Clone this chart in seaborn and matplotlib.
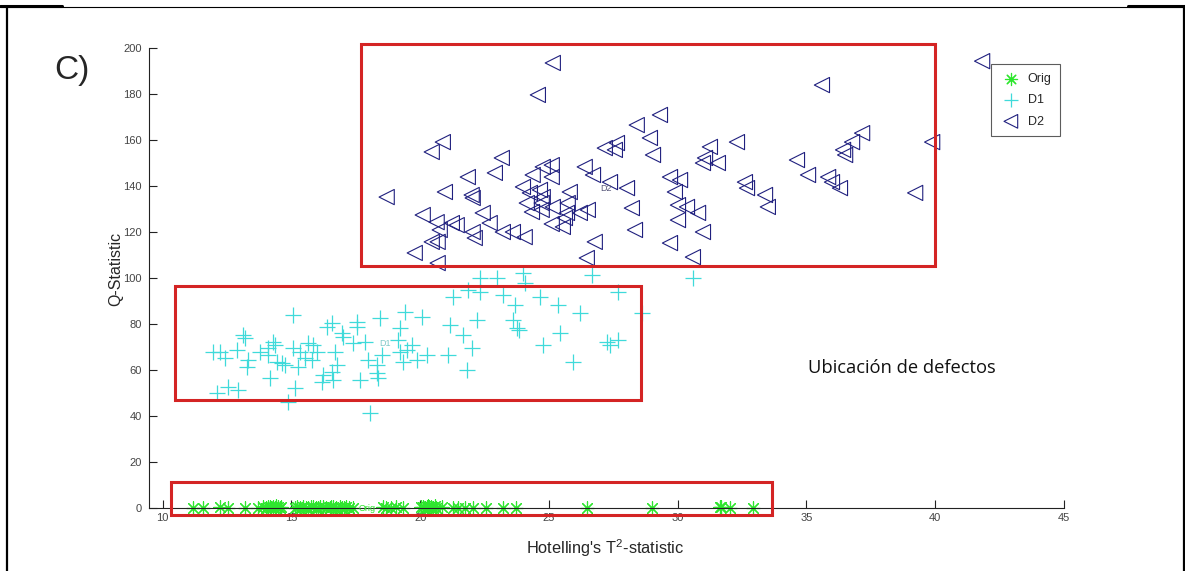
import matplotlib
matplotlib.use('Agg')
import matplotlib.pyplot as plt
import matplotlib.patches as mpatches
from matplotlib.lines import Line2D
import pandas as pd
import seaborn as sns

# data (T2 statistic, Q statistic)
orig_t2 = [11.18, 11.57, 12.21, 12.54, 13.19, 13.70, 13.90, 14.03, 14.10, 14.16,
           14.22, 14.29, 14.35, 14.42, 14.48, 14.55, 14.61, 15.13, 15.20, 15.32,
           15.45, 15.55, 15.65, 15.75, 15.84, 15.95, 16.03, 16.12, 16.23, 16.35,
           16.49, 16.55, 16.62, 16.75, 16.88, 16.95, 17.05, 17.14, 17.25, 17.39,
           18.56, 18.69, 18.88, 19.08, 19.34, 20.05, 20.12, 20.18, 20.25, 20.31,
           20.36, 20.44, 20.50, 20.56, 20.63, 20.83, 21.28, 21.47, 21.73, 22.06,
           22.57, 23.22, 23.74, 26.46, 29.02, 31.64, 31.68, 32.03, 32.92]
orig_q = [0.2, 0.1, 0.3, 0.0, 0.2, 0.1, 0.4, 0.2, 0.6, 0.3,
          0.1, 0.5, 0.2, 0.7, 0.3, 0.1, 0.4, 0.2, 0.3, 0.1,
          0.5, 0.2, 0.0, 0.3, 0.6, 0.1, 0.2, 0.4, 0.3, 0.1,
          0.2, 0.5, 0.3, 0.1, 0.4, 0.2, 0.0, 0.3, 0.1, 0.2,
          0.3, 0.1, 0.2, 0.4, 0.1, 0.3, 0.6, 0.2, 0.5, 0.8,
          0.3, 0.4, 0.1, 0.7, 0.2, 0.3, 0.1, 0.2, 0.0, 0.1,
          0.2, 0.1, 0.0, 0.2, 0.1, 0.3, 0.5, 0.1, 0.2]

d1_t2 = [15.05, 16.57, 16.37, 17.54, 17.54, 18.43, 19.40, 20.06, 19.21, 21.27,
         21.15, 13.11, 13.19, 16.95, 16.99, 17.85, 17.38, 19.13, 19.67, 11.94,
         12.21, 12.41, 12.87, 13.30, 13.26, 13.77, 14.08, 14.27, 14.35, 14.08,
         14.43, 14.62, 14.74, 15.05, 15.32, 15.24, 15.52, 15.63, 15.83, 15.98,
         15.79, 16.68, 16.76, 16.57, 16.22, 16.18, 16.60, 17.65, 14.16, 15.13,
         14.86, 17.96, 18.31, 18.51, 18.31, 18.35, 19.21, 19.48, 19.32, 19.87,
         20.26, 21.07, 12.10, 12.53, 12.91, 18.04, 22.32, 22.98, 23.99, 24.06,
         26.67, 30.59, 21.85, 22.32, 23.21, 23.68, 24.65, 25.35, 26.20, 27.68,
         28.61, 22.20, 23.60, 23.75, 23.83, 21.65, 22.00, 25.42, 24.76, 27.25,
         27.68, 27.37, 21.81, 25.93]
d1_q = [83.9, 80.4, 78.7, 80.9, 78.7, 82.6, 85.2, 83.0, 78.3, 91.7,
        79.6, 75.2, 73.9, 76.1, 74.3, 72.2, 71.7, 73.0, 70.9, 67.8,
        67.8, 65.2, 68.7, 64.3, 61.3, 67.8, 69.6, 72.2, 70.9, 66.5,
        63.5, 63.0, 62.2, 69.6, 67.8, 61.3, 65.2, 71.7, 70.9, 67.8,
        64.3, 67.8, 62.2, 59.1, 57.8, 54.8, 55.7, 55.7, 56.5, 52.2,
        46.1, 64.3, 62.2, 66.5, 58.7, 56.5, 67.8, 68.7, 63.5, 64.3,
        66.5, 66.5, 50.0, 52.6, 51.3, 41.3, 100.0, 100.0, 102.2, 97.8,
        101.3, 100.0, 94.8, 93.9, 92.6, 88.3, 91.7, 88.3, 84.8, 93.9,
        84.8, 81.7, 81.7, 78.3, 77.4, 75.2, 69.6, 76.1, 70.9, 72.2,
        73.0, 70.9, 60.0, 63.5]

d2_t2 = [25.15, 24.57, 29.31, 28.41, 28.92, 29.04, 20.88, 20.45, 23.17, 22.90,
         21.85, 18.70, 20.96, 22.00, 22.04, 24.76, 25.11, 25.11, 24.37, 26.39,
         26.71, 27.17, 27.64, 27.56, 23.99, 24.26, 24.65, 24.76, 24.72, 25.81,
         24.14, 24.34, 24.72, 25.15, 25.73, 25.70, 26.20, 26.51, 27.37, 28.03,
         28.22, 28.34, 26.78, 26.47, 25.11, 25.54, 25.62, 22.43, 22.70, 22.04,
         22.12, 23.21, 23.60, 24.06, 20.10, 20.64, 20.76, 21.23, 21.42, 20.45,
         20.68, 19.79, 20.68, 29.70, 30.09, 29.89, 30.01, 30.36, 30.01, 29.70,
         30.59, 35.60, 31.25, 31.06, 30.98, 31.56, 32.30, 30.79, 30.98, 32.61,
         32.69, 33.39, 33.50, 34.63, 35.06, 35.84, 35.99, 36.30, 36.42, 36.50,
         36.77, 37.16, 39.22, 39.88, 41.82]
d2_q = [193.5, 179.6, 170.9, 166.5, 160.9, 153.5, 159.1, 154.8, 152.2, 145.7,
        143.9, 135.2, 137.4, 136.1, 134.8, 148.3, 149.1, 143.9, 144.8, 148.3,
        144.8, 156.5, 158.7, 155.7, 139.6, 137.0, 138.3, 135.2, 132.6, 137.4,
        132.6, 128.7, 129.6, 130.9, 132.6, 128.3, 128.3, 129.6, 141.7, 139.1,
        130.4, 120.9, 115.7, 108.7, 123.5, 122.2, 126.1, 128.3, 123.9, 120.0,
        117.4, 120.0, 120.0, 117.8, 127.4, 124.3, 120.9, 123.9, 123.0, 115.7,
        115.7, 110.9, 106.5, 143.9, 142.6, 137.4, 131.7, 130.9, 125.2, 115.2,
        109.1, 183.9, 157.0, 152.2, 150.0, 150.0, 159.1, 128.3, 120.0, 141.7,
        139.1, 136.1, 130.9, 151.3, 144.8, 143.9, 141.7, 139.1, 155.7, 153.5,
        159.1, 163.0, 137.0, 159.1, 194.3]

# red boxes marking the defect locations (t2 from, t2 to, q from, q to)
boxes = [(17.69, 39.99, 105.2, 201.7),
         (10.47, 28.57, 47.0, 96.5),
         (10.31, 33.66, -3.0, 11.3)]

x_ticks = [10, 15, 20, 25, 30, 35, 40, 45]
y_ticks = [0, 20, 40, 60, 80, 100, 120, 140, 160, 180, 200]

sns.set_style('ticks')
plt.rcParams['font.family'] = ['Liberation Sans', 'DejaVu Sans']
plt.rcParams['mathtext.default'] = 'regular'

df = pd.concat([
    pd.DataFrame({'t2': orig_t2, 'q': orig_q, 'grp': 'Orig'}),
    pd.DataFrame({'t2': d1_t2, 'q': d1_q, 'grp': 'D1'}),
    pd.DataFrame({'t2': d2_t2, 'q': d2_q, 'grp': 'D2'}),
])

green = '#2ee62e'
cyan = '#3fdada'
navy = '#20207f'
asterisk = (8, 2, 0)

fig = plt.figure(figsize=(11.85, 5.71), dpi=100)
ax = fig.add_axes([0.1257, 0.1103, 0.7722, 0.8056])

sns.scatterplot(data=df[df.grp == 'Orig'], x='t2', y='q', marker=asterisk, s=95,
                color=green, linewidth=0.85, ax=ax, label='Orig', clip_on=False)
sns.scatterplot(data=df[df.grp == 'D1'], x='t2', y='q', marker='+', s=140,
                color=cyan, linewidth=0.9, ax=ax, label='D1')
sns.scatterplot(data=df[df.grp == 'D2'], x='t2', y='q', marker='<', s=120,
                color=navy, linewidth=0.8, ax=ax, label='D2', clip_on=False)
star = ax.collections[0]
star.set_edgecolor(green)
star.set_facecolor(green)
tri = ax.collections[-1]
tri.set_facecolor('none')
tri.set_edgecolor(navy)

for x0, x1, y0, y1 in boxes:
    ax.add_patch(mpatches.Rectangle((x0, y0), x1 - x0, y1 - y0, fill=False,
                                    edgecolor='#d42424', linewidth=2.2,
                                    clip_on=False, zorder=5))

ax.text(17.95, 0, 'Orig', color=green, fontsize=6.5, va='center', ha='center')
ax.text(18.62, 71.7, 'D1', color='#7fc8c8', fontsize=6.5, va='center', ha='center')
ax.text(27.2, 139, 'D2', color='#555577', fontsize=6.5, va='center', ha='center')

ax.set_xlim(9.47, 45)
ax.set_ylim(0, 200)
ax.set_xticks(x_ticks)
ax.set_yticks(y_ticks)
ax.tick_params(direction='in', length=6, width=0.8, colors='#222222',
               labelcolor='#444444', labelsize=8)
ax.tick_params(axis='y', pad=5)
sns.despine(ax=ax)
ax.spines['left'].set_color('#222222')
ax.spines['bottom'].set_color('#222222')

ax.set_xlabel("Hotelling's T$^2$-statistic", fontsize=11.8)
ax.set_ylabel('Q-Statistic', fontsize=11.5)
ax.xaxis.set_label_coords(0.498, -0.087)
ax.yaxis.set_label_coords(-0.036, 0.52)
ax.xaxis.label.set_va('center')
ax.yaxis.label.set_va('center')

leg = ax.legend(loc='upper right', bbox_to_anchor=(0.996, 0.965), borderaxespad=0,
                fancybox=False, frameon=True, edgecolor='#333333', borderpad=0.7,
                handletextpad=0.5, handlelength=1.7, labelspacing=0.75,
                markerscale=0.9, prop={'size': 9})
leg.get_frame().set_linewidth(0.8)

fig.text(808 / 1185, 1 - 368 / 571, 'Ubicación de defectos', fontsize=13.2,
         family='Open Sans', va='center', ha='left', color='#111111')
fig.text(54 / 1185, 1 - 71 / 571, 'C)', fontsize=24, va='center', ha='left')

# page frame around the figure
fig.add_artist(Line2D([0, 1], [1 - 7 / 571] * 2, color='black', lw=0.8))
fig.add_artist(Line2D([0, 62 / 1185], [1 - 6 / 571] * 2, color='black', lw=2.2))
fig.add_artist(Line2D([1128 / 1185, 1], [1 - 6 / 571] * 2, color='black', lw=2.2))
fig.add_artist(Line2D([7 / 1185] * 2, [0, 1 - 7 / 571], color='black', lw=1.6))
fig.add_artist(Line2D([1184 / 1185] * 2, [0, 1 - 7 / 571], color='black', lw=1.6))

fig.savefig('out.png', dpi=100)
